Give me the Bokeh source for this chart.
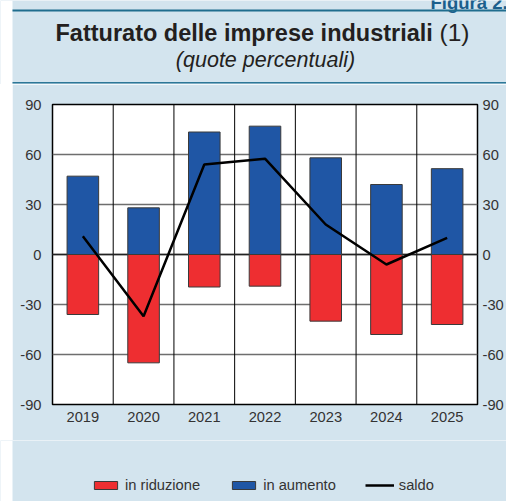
from bokeh.plotting import figure
from bokeh.layouts import row, column
from bokeh.models import (FactorRange, Range1d, LinearAxis, FixedTicker, Span, Label,
                          BoxAnnotation, Legend, LegendItem, ColumnDataSource,
                          PrintfTickFormatter)
from bokeh.embed import file_html
from bokeh.resources import INLINE

# ---- data ----
years = ["2019", "2020", "2021", "2022", "2023", "2024", "2025"]
in_aumento = [47, 28, 73.5, 77, 58, 42, 51.5]
in_riduzione = [-36, -65, -19.5, -19, -40, -48, -42]
saldo = [11, -37, 54, 57.5, 18, -6, 10]
y_ticks = [-90, -60, -30, 0, 30, 60, 90]

figure_tag = "Figura 2."
title_bold = "Fatturato delle imprese industriali"
title_note = "(1)"
subtitle = "(quote percentuali)"
legend_labels = ["in riduzione", "in aumento", "saldo"]

# ---- styling ----
BG = "#d3e4ee"
TEAL = "#2c7797"
RED = "#ee2e31"
BLUE = "#1f56a5"
TXT = "#333333"
DARK = "#231f20"
FONT = "Liberation Sans"

W = 506
STRIP = 12                       # white strip on the left
HEAD_H, MAIN_H, FOOT_H = 84, 356, 61


def deco_fig(height, y0):
    f = figure(width=W, height=height, x_range=Range1d(0, W),
               y_range=Range1d(y0 + height, y0),
               output_backend="svg", toolbar_location=None, min_border=0,
               x_axis_type=None, y_axis_type=None, frame_align=False,
               background_fill_color=BG, border_fill_color=BG)
    f.outline_line_color = None
    f.grid.grid_line_color = None
    f.add_layout(BoxAnnotation(left=0, right=STRIP, top=y0, bottom=y0 + height,
                               fill_color="white", fill_alpha=1, line_color=None))
    return f


# ---------------- header ----------------
ph = deco_fig(HEAD_H, 0)
ph.add_layout(Label(x=430, y=1.5, text=figure_tag, text_font=FONT, text_font_style="bold",
                    text_font_size="18.5px", text_color="#1b5f8c",
                    text_align="left", text_baseline="alphabetic"))
ph.add_layout(BoxAnnotation(left=STRIP, right=W, top=9, bottom=11,
                            fill_color="#1f6d8e", fill_alpha=1, line_color=None))
ph.add_layout(BoxAnnotation(left=STRIP, right=W, top=81.5, bottom=83,
                            fill_color=TEAL, fill_alpha=1, line_color=None))
ph.add_layout(Label(x=55, y=32, text=title_bold, text_font=FONT, text_font_style="bold",
                    text_font_size="23.5px", text_color=DARK,
                    text_align="left", text_baseline="alphabetic"))
ph.add_layout(Label(x=439, y=32, text=title_note, text_font=FONT, text_font_style="normal",
                    text_font_size="24.5px", text_color=DARK,
                    text_align="left", text_baseline="alphabetic"))
ph.add_layout(Label(x=265, y=59, text=subtitle, text_font=FONT, text_font_style="italic",
                    text_font_size="21.5px", text_color=DARK,
                    text_align="center", text_baseline="alphabetic"))

# ---------------- main chart ----------------
src = ColumnDataSource(dict(year=years, up=in_aumento, down=in_riduzione, saldo=saldo))

p = figure(width=W - STRIP, height=MAIN_H,
           x_range=FactorRange(factors=years, range_padding=0),
           y_range=Range1d(-90, 90),
           output_backend="svg", toolbar_location=None, frame_align=False,
           min_border_left=40, min_border_right=27,
           min_border_top=20, min_border_bottom=36,
           background_fill_color="white", border_fill_color=BG)
p.outline_line_color = "black"
p.outline_line_width = 1.5

p.xgrid.grid_line_color = None
p.ygrid.ticker = FixedTicker(ticks=y_ticks)
p.ygrid.grid_line_color = "#6e6e6e"
p.ygrid.grid_line_width = 1.5
for k in range(1, len(years)):
    p.add_layout(Span(location=k, dimension="height", line_color="black",
                      line_width=1, level="underlay"))
p.add_layout(Span(location=0, dimension="width", line_color="#222222",
                  line_width=1.5, level="underlay"))

r_down = p.vbar(x="year", top="down", bottom=0, width=0.52, source=src,
                fill_color=RED, line_color="#3a3a3a", line_width=1)
r_up = p.vbar(x="year", top="up", bottom=0, width=0.52, source=src,
              fill_color=BLUE, line_color="#3a3a3a", line_width=1)
r_line = p.line(x="year", y="saldo", source=src, line_color="black", line_width=2.5)

p.yaxis.ticker = FixedTicker(ticks=y_ticks)
p.yaxis.formatter = PrintfTickFormatter(format="%d")
p.add_layout(LinearAxis(ticker=FixedTicker(ticks=y_ticks),
                        formatter=PrintfTickFormatter(format="%d")), "right")
for ax in p.axis:
    ax.axis_line_color = None
    ax.major_tick_line_color = None
    ax.minor_tick_line_color = None
    ax.major_tick_out = 0
    ax.major_tick_in = 0
    ax.major_label_text_font = FONT
    ax.major_label_text_font_size = "14.7px"
    ax.major_label_text_color = TXT
p.yaxis[0].major_label_standoff = 11
p.yaxis[1].major_label_standoff = 5
p.xaxis.major_label_standoff = 7

strip = figure(width=STRIP, height=MAIN_H, x_range=Range1d(0, 1), y_range=Range1d(0, 1),
               output_backend="svg", toolbar_location=None, min_border=0,
               x_axis_type=None, y_axis_type=None, frame_align=False,
               background_fill_color="white", border_fill_color="white")
strip.outline_line_color = None
strip.grid.grid_line_color = None

# ---------------- footer with legend ----------------
pf = deco_fig(FOOT_H, HEAD_H + MAIN_H)
idx = list(range(len(years)))
l_down = pf.vbar(x=idx, top=in_riduzione, width=0.52, fill_color=RED,
                 line_color="#3a3a3a", line_width=1, visible=False)
l_up = pf.vbar(x=idx, top=in_aumento, width=0.52, fill_color=BLUE,
               line_color="#3a3a3a", line_width=1, visible=False)
l_line = pf.line(x=idx, y=saldo, line_color="black", line_width=2.5, visible=False)

legend = Legend(items=[LegendItem(label=legend_labels[0], renderers=[l_down]),
                       LegendItem(label=legend_labels[1], renderers=[l_up]),
                       LegendItem(label=legend_labels[2], renderers=[l_line])],
                orientation="horizontal", location=(91, 8),
                glyph_width=29, glyph_height=10, label_height=10,
                label_standoff=5, spacing=29, padding=0, margin=0,
                border_line_color=None, background_fill_alpha=0,
                inactive_fill_alpha=0,
                label_text_font=FONT, label_text_font_size="14.7px",
                label_text_color=TXT)
pf.add_layout(legend, "center")

layout = column(ph, row(strip, p, spacing=0), pf, spacing=0)

open("out.html", "w").write(file_html(layout, INLINE))
